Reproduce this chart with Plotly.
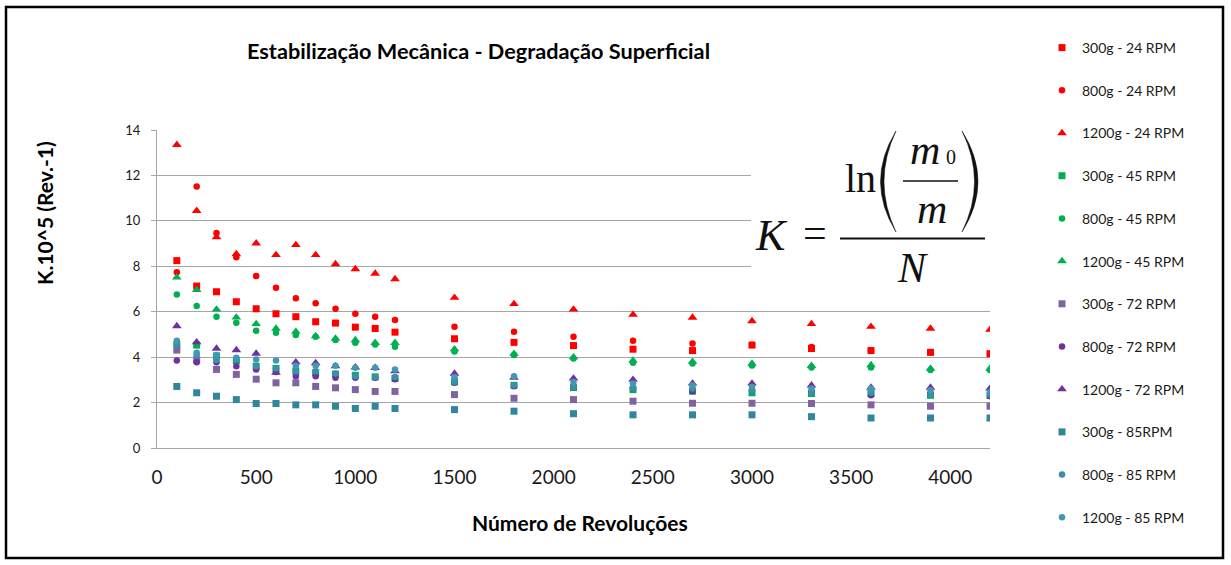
import plotly.graph_objects as go

# ---------------- data ----------------
revolutions = [100, 200, 300, 400, 500, 600, 700, 800, 900, 1000, 1100, 1200,
               1500, 1800, 2100, 2400, 2700, 3000, 3300, 3600, 3900, 4200]

k_300g_24 = [8.25, 7.13, 6.88, 6.44, 6.13, 5.91, 5.78, 5.56, 5.50, 5.32, 5.26, 5.10,
             4.81, 4.65, 4.51, 4.35, 4.29, 4.53, 4.38, 4.29, 4.21, 4.15]
k_800g_24 = [7.74, 11.51, 9.46, 8.40, 7.57, 7.06, 6.59, 6.37, 6.13, 5.91, 5.78, 5.63,
             5.34, 5.12, 4.90, 4.72, 4.60, 4.55, 4.45, 4.30, 4.22, 4.15]
k_1200g_24 = [13.35, 10.44, 9.28, 8.54, 9.01, 8.50, 8.94, 8.50, 8.10, 7.88, 7.68, 7.44,
              6.62, 6.34, 6.10, 5.87, 5.74, 5.59, 5.46, 5.34, 5.26, 5.21]
k_300g_45 = [4.56, 4.53, 4.05, 3.85, 3.60, 3.50, 3.38, 3.32, 3.25, 3.20, 3.13, 3.06,
             2.91, 2.76, 2.66, 2.57, 2.50, 2.43, 2.40, 2.40, 2.32, 2.32]
k_800g_45 = [6.76, 6.25, 5.78, 5.51, 5.16, 5.07, 4.97, 4.90, 4.75, 4.63, 4.56, 4.46,
             4.25, 4.09, 3.94, 3.75, 3.72, 3.63, 3.54, 3.54, 3.43, 3.43]
k_1200g_45 = [7.51, 6.96, 6.10, 5.75, 5.46, 5.26, 5.12, 4.93, 4.82, 4.75, 4.63, 4.63,
              4.35, 4.15, 4.00, 3.85, 3.80, 3.72, 3.62, 3.65, 3.50, 3.50]
k_300g_72 = [4.31, 3.87, 3.46, 3.24, 3.03, 2.87, 2.87, 2.71, 2.65, 2.57, 2.49, 2.49,
             2.35, 2.19, 2.13, 2.06, 1.97, 1.97, 1.96, 1.90, 1.84, 1.84]
k_800g_72 = [3.85, 3.78, 3.78, 3.60, 3.46, 3.35, 3.16, 3.16, 3.09, 3.09, 3.09, 3.03,
             2.87, 2.72, 2.69, 2.62, 2.50, 2.54, 2.47, 2.32, 2.40, 2.28]
k_1200g_72 = [5.37, 4.66, 4.38, 4.31, 4.16, 3.32, 3.78, 3.74, 3.60, 3.55, 3.53, 3.38,
              3.28, 3.10, 3.06, 3.01, 2.84, 2.84, 2.76, 2.66, 2.66, 2.62]
k_300g_85 = [2.71, 2.43, 2.28, 2.13, 1.96, 1.96, 1.90, 1.90, 1.84, 1.74, 1.84, 1.74,
             1.69, 1.62, 1.51, 1.46, 1.46, 1.46, 1.38, 1.32, 1.32, 1.32]
k_800g_85 = [4.57, 4.09, 3.87, 3.87, 3.60, 3.50, 3.38, 3.38, 3.28, 3.16, 3.13, 3.13,
             2.91, 2.76, 2.69, 2.62, 2.62, 2.54, 2.43, 2.43, 2.35, 2.35]
k_1200g_85 = [4.72, 4.19, 4.09, 3.97, 3.90, 3.85, 3.62, 3.62, 3.62, 3.53, 3.53, 3.46,
              3.13, 3.16, 2.91, 2.84, 2.76, 2.69, 2.62, 2.62, 2.54, 2.47]

series_names = ["300g - 24 RPM", "800g - 24 RPM", "1200g - 24 RPM",
                "300g - 45 RPM", "800g - 45 RPM", "1200g - 45 RPM",
                "300g - 72 RPM", "800g - 72 RPM", "1200g - 72 RPM",
                "300g - 85RPM", "800g - 85 RPM", "1200g - 85 RPM"]
series_values = [k_300g_24, k_800g_24, k_1200g_24,
                 k_300g_45, k_800g_45, k_1200g_45,
                 k_300g_72, k_800g_72, k_1200g_72,
                 k_300g_85, k_800g_85, k_1200g_85]
series_colors = ["#FF0000", "#FF0000", "#FF0000",
                 "#00B050", "#00B050", "#00B050",
                 "#8064A2", "#7030A0", "#7030A0",
                 "#31859C", "#3A8FAA", "#4298B4"]
series_symbols = ["square", "circle", "triangle-up",
                  "square", "circle", "triangle-up",
                  "square", "circle", "triangle-up",
                  "square", "circle", "circle"]
series_sizes = [7, 6.5, 8.5, 7, 6.5, 8.5, 7, 6.5, 8.5, 7, 6.5, 6.5]

x_ticks = [0, 500, 1000, 1500, 2000, 2500, 3000, 3500, 4000]
y_ticks = [0, 2, 4, 6, 8, 10, 12, 14]

# ---------------- geometry helpers ----------------
W, H = 1231, 565
PL, PR, PT, PB = 157, 990, 130, 448


def px(x):
    return (x - PL) / (PR - PL)


def py(y):
    return (PB - y) / (PB - PT)


fig = go.Figure()
for name, vals, col, sym, sz in zip(series_names, series_values, series_colors,
                                    series_symbols, series_sizes):
    fig.add_trace(go.Scatter(
        x=revolutions, y=vals, mode="markers", name=name, legendgroup=name,
        marker=dict(symbol=sym, color=col, size=sz, line=dict(width=0)),
    ))

FONT = "Lato"
axis_font = dict(family=FONT, size=19, color="#1a1a1a")

fig.update_layout(
    width=W, height=H,
    margin=dict(l=PL, r=W - PR, t=PT, b=H - PB),
    paper_bgcolor="white", plot_bgcolor="white",
    showlegend=True,
    legend=dict(x=px(1042), y=py(32), xanchor="left", yanchor="top",
                font=dict(family=FONT, size=14, color="#1a1a1a"),
                tracegroupgap=21.5, bgcolor="rgba(0,0,0,0)", borderwidth=0,
                maxheight=540),
    xaxis=dict(range=[0, 4200], tickvals=x_ticks, ticktext=[str(v) for v in x_ticks],
               showgrid=False, zeroline=False, showline=True,
               linecolor="#A6A6A6", linewidth=1, ticks="",
               tickfont=axis_font, ticklabelstandoff=12),
    yaxis=dict(range=[0, 14], tickvals=y_ticks, ticktext=[str(v) for v in y_ticks],
               showgrid=True, gridcolor="#A6A6A6", gridwidth=1,
               zeroline=False, showline=True, linecolor="#A6A6A6", linewidth=1,
               ticks="outside", ticklen=5, tickcolor="#A6A6A6",
               tickfont=dict(family=FONT, size=13, color="#1a1a1a"),
               ticklabelstandoff=8),
)

shapes = []
# outer frame
shapes.append(dict(type="rect", xref="paper", yref="paper",
                   x0=px(6), x1=px(1223), y0=py(558), y1=py(7),
                   line=dict(color="black", width=2.5), fillcolor="rgba(0,0,0,0)",
                   layer="above"))
# white formula box
shapes.append(dict(type="rect", xref="paper", yref="paper",
                   x0=px(751), x1=px(996), y0=py(296), y1=py(112),
                   line=dict(width=0), fillcolor="white", layer="above"))
# fraction bars
shapes.append(dict(type="line", xref="paper", yref="paper",
                   x0=px(840), x1=px(985), y0=py(238.5), y1=py(238.5),
                   line=dict(color="#111", width=2), layer="above"))
shapes.append(dict(type="line", xref="paper", yref="paper",
                   x0=px(903), x1=px(958), y0=py(181), y1=py(181),
                   line=dict(color="#111", width=1.5), layer="above"))


def ppath(points_cmds):
    out = []
    for cmd, pts in points_cmds:
        coords = " ".join(f"{px(a):.5f},{py(b):.5f}" for a, b in pts)
        out.append(f"{cmd} {coords}")
    return " ".join(out) + " Z"


left_paren = ppath([("M", [(896, 131)]), ("Q", [(865, 181.5), (896, 232)]),
                    ("Q", [(872, 181.5), (896, 131)])])
right_paren = ppath([("M", [(962, 131)]), ("Q", [(994, 181.5), (962, 232)]),
                     ("Q", [(987, 181.5), (962, 131)])])
for pth in (left_paren, right_paren):
    shapes.append(dict(type="path", xref="paper", yref="paper", path=pth,
                       fillcolor="#111", line=dict(color="#111", width=0.5),
                       layer="above"))
fig.update_layout(shapes=shapes)

SERIF = "Liberation Serif"


def ann(text, x, y, size, family=FONT, rot=0, italic=False, color="#111"):
    t = f"<i>{text}</i>" if italic else text
    fig.add_annotation(text=t, x=px(x), y=py(y), xref="paper", yref="paper",
                       xanchor="center", yanchor="middle", showarrow=False,
                       textangle=rot, font=dict(family=family, size=size, color=color))


# titles
ann("<b>Estabilização Mecânica - Degradação Superficial</b>", 478, 51, 21.7, color="black")
ann("<b>Número de Revoluções</b>", 580, 522, 21, color="black")
ann("<b>K.10^5 (Rev.-1)</b>", 44, 213, 21, rot=-90, color="black")

# formula
ann("K", 771, 235.5, 44, family=SERIF, italic=True)
ann("=", 815, 233, 42, family=SERIF)
ann("ln", 860, 178.5, 40, family=SERIF)
ann("m", 925, 149.5, 42, family=SERIF, italic=True)
ann("0", 951, 156.5, 20, family=SERIF)
ann("m", 932, 208.5, 42, family=SERIF, italic=True)
ann("N", 912, 268, 42, family=SERIF, italic=True)

fig.write_html(
    "out.html",
    config={"displayModeBar": False},
    post_script="document.body.style.margin='0';document.body.style.padding='0';"
                "document.body.style.overflow='hidden';",
)
